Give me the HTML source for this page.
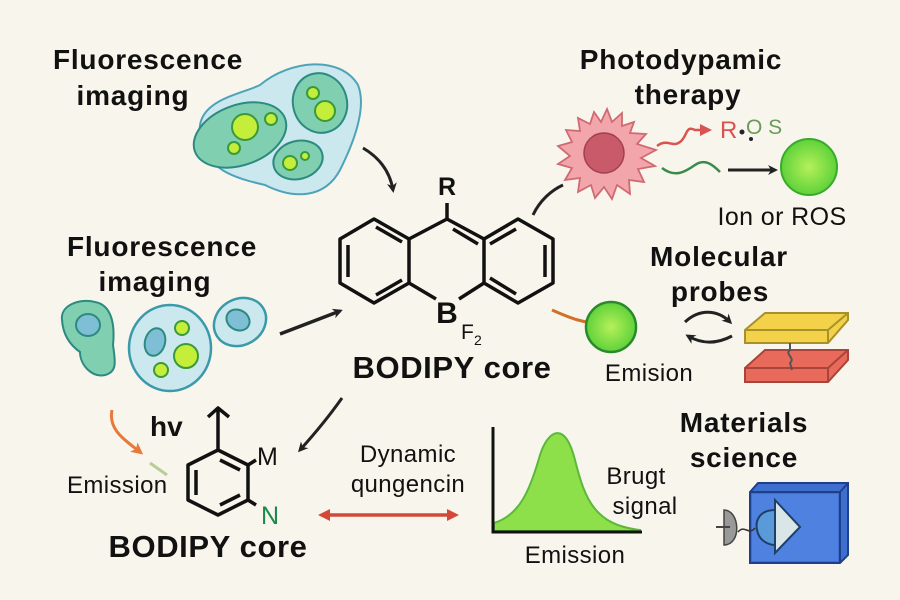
<!DOCTYPE html>
<html><head><meta charset="utf-8"><style>
html,body{margin:0;padding:0;background:#f8f5ec;}
svg{display:block;}
text{font-family:"Liberation Sans",sans-serif;fill:#111;}
.h{font-weight:bold;font-size:28px;letter-spacing:0.8px;}
.r{font-size:24px;letter-spacing:0.4px;}
</style></head><body>
<svg width="900" height="600" viewBox="0 0 900 600" xmlns="http://www.w3.org/2000/svg">
<defs>
<marker id="ab" markerWidth="10" markerHeight="10" refX="7" refY="5" orient="auto" markerUnits="userSpaceOnUse"><path d="M0,0 L10,5 L0,10 L3,5Z" fill="#222"/></marker>
<marker id="ar" markerWidth="12" markerHeight="12" refX="8" refY="6" orient="auto-start-reverse" markerUnits="userSpaceOnUse"><path d="M0,0 L12,6 L0,12Z" fill="#d4483a"/></marker>
<marker id="ao" markerWidth="12" markerHeight="12" refX="8" refY="6" orient="auto" markerUnits="userSpaceOnUse"><path d="M0,0 L12,6 L0,12 L3,6Z" fill="#e8793a"/></marker>
<marker id="ay" markerWidth="14" markerHeight="14" refX="9" refY="7" orient="auto" markerUnits="userSpaceOnUse"><path d="M0,0 L14,7 L0,14 L4,7Z" fill="#9cb82a"/></marker>
<marker id="ap" markerWidth="12" markerHeight="12" refX="8" refY="6" orient="auto" markerUnits="userSpaceOnUse"><path d="M0,0 L12,6 L0,12Z" fill="#d9534f"/></marker>
<radialGradient id="gg"><stop offset="0" stop-color="#b6f05a"/><stop offset="1" stop-color="#5fd23a"/></radialGradient>
</defs>
<rect width="900" height="600" fill="#f8f5ec"/>

<!-- top fluorescence -->
<text class="h" x="148" y="69" text-anchor="middle">Fluorescence</text>
<text class="h" x="133" y="105" text-anchor="middle">imaging</text>
<path d="M200,135 C195,100 240,95 260,85 C290,60 340,55 358,85 C368,110 350,150 340,170 C325,198 295,200 265,185 C235,178 205,170 200,135Z" fill="#cbe8ef" stroke="#4fa3b8" stroke-width="2"/>
<ellipse cx="240" cy="135" rx="48" ry="30" transform="rotate(-20 240 135)" fill="#7fcfb0" stroke="#2c8a80" stroke-width="2"/>
<ellipse cx="320" cy="103" rx="27" ry="30" transform="rotate(-15 320 103)" fill="#7fcfb0" stroke="#2c8a80" stroke-width="2"/>
<ellipse cx="298" cy="160" rx="25" ry="19" transform="rotate(-15 298 160)" fill="#7fcfb0" stroke="#2c8a80" stroke-width="2"/>
<g fill="#c4ee3a" stroke="#3a9a3a" stroke-width="2">
<circle cx="245" cy="127" r="13"/><circle cx="271" cy="119" r="6"/><circle cx="234" cy="148" r="6"/>
<circle cx="313" cy="93" r="6"/><circle cx="325" cy="111" r="10"/>
<circle cx="290" cy="163" r="7"/><circle cx="305" cy="156" r="4"/>
</g>
<path d="M363,148 C380,158 390,172 393,190" fill="none" stroke="#222" stroke-width="3" marker-end="url(#ab)"/>

<!-- second fluorescence -->
<text class="h" x="162" y="256" text-anchor="middle">Fluorescence</text>
<text class="h" x="155" y="291" text-anchor="middle">imaging</text>
<path d="M62,320 C60,305 80,298 95,302 C112,305 115,325 113,345 C115,360 118,372 105,375 C92,378 80,365 80,352 C70,345 63,335 62,320Z" fill="#7fcfb0" stroke="#2c8a80" stroke-width="2"/>
<ellipse cx="88" cy="325" rx="12" ry="11" fill="#7fbfd5" stroke="#2c8a80" stroke-width="2"/>
<ellipse cx="170" cy="348" rx="41" ry="43" fill="#cbe8ef" stroke="#3a9aaa" stroke-width="2.5"/>
<ellipse cx="155" cy="342" rx="10" ry="14" transform="rotate(15 155 342)" fill="#7fbfd5" stroke="#2c8a80" stroke-width="2"/>
<g fill="#c4ee3a" stroke="#3a9a3a" stroke-width="2"><circle cx="182" cy="328" r="7"/><circle cx="186" cy="356" r="12"/><circle cx="161" cy="370" r="7"/></g>
<ellipse cx="240" cy="322" rx="27" ry="23" transform="rotate(-30 240 322)" fill="#cbe8ef" stroke="#3a9aaa" stroke-width="2.5"/>
<ellipse cx="238" cy="320" rx="12" ry="10" transform="rotate(30 238 320)" fill="#7fbfd5" stroke="#2c8a80" stroke-width="2"/>
<path d="M280,334 L340,311" fill="none" stroke="#222" stroke-width="3.5" marker-end="url(#ab)"/>

<!-- main molecule -->
<g fill="none" stroke="#111" stroke-width="3.5" stroke-linejoin="round">
<path d="M374,219 L409,239 L409,283 L374,303 L340,283 L340,239Z"/>
<path d="M518,219 L553,239 L553,283 L518,303 L484,283 L484,239Z"/>
<path d="M409,239 L447,219 L484,239 M447,219 L447,203 M409,283 L436,299 M484,283 L459,299"/>
<path d="M348,245 L348,277 M376,227 L402,242 M376,295 L402,280 M453,229 L478,244 M490,244 L516,229 M545,245 L545,277 M490,278 L516,294"/>
</g>
<text x="447" y="195" text-anchor="middle" style="font-weight:bold;font-size:25px">R</text>
<text x="447" y="323" text-anchor="middle" style="font-weight:bold;font-size:30px">B</text>
<text x="461" y="339" style="font-size:21px">F</text><text x="474" y="345" style="font-size:14px">2</text>
<text x="452" y="378" text-anchor="middle" style="font-weight:bold;font-size:31px;letter-spacing:0.6px">BODIPY core</text>
<path d="M533,215 C540,200 552,190 563,185" fill="none" stroke="#222" stroke-width="3"/>

<!-- photodynamic -->
<text class="h" x="681" y="69" text-anchor="middle">Photodypamic</text>
<text class="h" x="688" y="104" text-anchor="middle">therapy</text>
<path d="M607,109 L612,122 L622,113 L622,126 L634,122 L630,133 L646,134 L637,144 L656,150 L641,158 L655,166 L638,169 L644,182 L629,180 L630,194 L617,185 L612,199 L604,187 L595,198 L591,185 L578,192 L580,178 L565,180 L572,168 L558,164 L570,156 L558,146 L572,142 L566,130 L580,131 L578,118 L590,124 L594,112 L601,122Z" fill="#f2a5ab" stroke="#d06a72" stroke-width="1.8"/>
<circle cx="604" cy="153" r="20" fill="#c95a6a" stroke="#a04050" stroke-width="1.5"/>
<path d="M657,146 C668,138 672,148 680,142 C688,136 685,125 695,130 L708,130" fill="none" stroke="#d9534f" stroke-width="2.5" marker-end="url(#ap)"/>
<text x="720" y="138" style="font-size:24px;fill:#d9534f">R</text>
<circle cx="742" cy="132" r="2.5" fill="#223"/><circle cx="751" cy="139" r="2" fill="#223"/>
<text x="746" y="134" style="font-size:21px;fill:#6a9a5a">O S</text>
<path d="M662,168 C675,178 685,172 695,165 C705,158 713,165 720,172" fill="none" stroke="#3a8a4a" stroke-width="2.5"/>
<path d="M728,170 L775,170" stroke="#222" stroke-width="3" marker-end="url(#ab)"/>
<circle cx="809" cy="167" r="28" fill="url(#gg)" stroke="#3aaa2a" stroke-width="2"/>
<text class="r" x="782" y="225" text-anchor="middle" style="font-size:25px">Ion or ROS</text>

<!-- molecular probes -->
<text class="h" x="719" y="266" text-anchor="middle">Molecular</text>
<text class="h" x="720" y="301" text-anchor="middle">probes</text>
<path d="M552,310 C570,318 585,324 603,323" fill="none" stroke="#d2702a" stroke-width="3" marker-end="url(#ay)"/>
<circle cx="611" cy="327" r="25" fill="url(#gg)" stroke="#2a8a2a" stroke-width="2.5"/>
<text class="r" x="649" y="381" text-anchor="middle">Emision</text>
<path d="M685,322 C700,308 718,310 730,322" fill="none" stroke="#222" stroke-width="3" marker-end="url(#ab)"/>
<path d="M732,336 C715,345 700,343 688,336" fill="none" stroke="#222" stroke-width="3" marker-end="url(#ab)"/>
<path d="M745,330 L765,313 L848,313 L848,320 L828,343 L745,343Z" fill="#f3d24a" stroke="#a8902a" stroke-width="2"/>
<path d="M745,330 L828,330 L848,313 M828,330 L828,343" fill="none" stroke="#a8902a" stroke-width="2"/>
<path d="M745,368 L765,350 L848,350 L848,360 L828,382 L745,382Z" fill="#e86a5a" stroke="#a8443a" stroke-width="2"/>
<path d="M745,368 L828,368 L848,350 M828,368 L828,382" fill="none" stroke="#a8443a" stroke-width="2"/>
<path d="M790,343 L790,350 C784,354 796,358 790,363 L792,370" fill="none" stroke="#555" stroke-width="2"/>

<!-- lower left -->
<path d="M112,410 C108,430 125,440 140,452" fill="none" stroke="#e8793a" stroke-width="3" marker-end="url(#ao)"/>
<text x="150" y="436" style="font-weight:bold;font-size:28px">hv</text>
<path d="M150,463 L167,475" stroke="#b8cc9a" stroke-width="3"/>
<text class="r" x="67" y="493">Emission</text>
<g fill="none" stroke="#111" stroke-width="3.5" stroke-linejoin="round">
<path d="M218,450 L248,465 L248,500 L218,515 L188,500 L188,465Z"/>
<path d="M196,470 L196,495 M220,460 L240,470 M220,505 L240,495"/>
<path d="M218,450 L218,410 M208,417 L218,408 L229,417"/>
<path d="M248,465 L256,460 M248,500 L256,505"/>
</g>
<text x="257" y="465" style="font-size:25px">M</text>
<text x="261" y="524" style="font-size:25px;fill:#1a8a4a">N</text>
<text x="208" y="557" text-anchor="middle" style="font-weight:bold;font-size:31px;letter-spacing:0.6px">BODIPY core</text>
<path d="M342,398 C330,415 318,430 300,450" fill="none" stroke="#222" stroke-width="3" marker-end="url(#ab)"/>
<text class="r" x="408" y="462" text-anchor="middle">Dynamic</text>
<text class="r" x="408" y="492" text-anchor="middle">qungencin</text>
<path d="M322,515 L455,515" stroke="#d4483a" stroke-width="3.5" marker-start="url(#ar)" marker-end="url(#ar)"/>

<!-- emission chart -->
<path d="M494,523 C520,515 530,490 540,455 C548,430 565,420 575,460 C585,500 595,525 640,530 L640,531 L494,531Z" fill="#8ee04a" stroke="#5ab83a" stroke-width="2"/>
<path d="M493,427 L493,532 L642,532" fill="none" stroke="#111" stroke-width="3"/>
<text class="r" x="575" y="563" text-anchor="middle">Emission</text>
<text class="r" x="636" y="484" text-anchor="middle">Brugt</text>
<text class="r" x="645" y="514" text-anchor="middle">signal</text>

<!-- materials -->
<text class="h" x="744" y="432" text-anchor="middle">Materials</text>
<text class="h" x="744" y="467" text-anchor="middle">science</text>
<path d="M750,492 L758,483 L848,483 L848,555 L840,563 L750,563Z" fill="#3f6fce" stroke="#1e3f8a" stroke-width="2"/>
<path d="M750,492 L840,492 L840,563 M840,492 L848,483" fill="none" stroke="#1e3f8a" stroke-width="2"/>
<rect x="752" y="494" width="86" height="67" fill="#4f82e0"/>
<path d="M775,500 L800,527 L775,553Z" fill="#d8e6e8" stroke="#1e3f6a" stroke-width="2"/>
<path d="M775,510 C760,510 755,520 757,530 C760,545 775,545 775,545Z" fill="#5a9ad8" stroke="#1e3f6a" stroke-width="2"/>
<path d="M738,532 C745,524 748,536 755,528" fill="none" stroke="#333" stroke-width="1.5"/>
<path d="M724,510 C740,510 742,545 724,545Z" fill="#999" stroke="#444" stroke-width="1.5"/>
<path d="M716,527 L730,527" stroke="#444" stroke-width="2"/>
</svg>
</body></html>
